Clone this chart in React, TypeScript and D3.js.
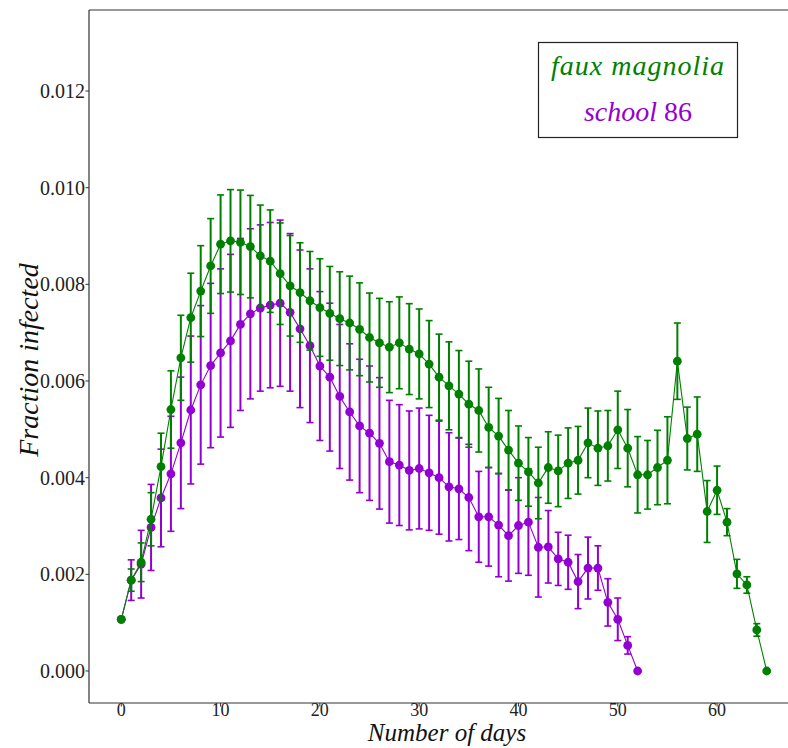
import React from "react";
import * as d3 from "d3";

const greenDays = d3.range(0, 66);
const greenValues = [
  0.00107, 0.00188, 0.00225, 0.00314, 0.00423, 0.00541, 0.00648, 0.00731, 0.00786, 0.00838,
  0.00883, 0.0089, 0.00887, 0.00878, 0.00859, 0.00848, 0.00822, 0.00797, 0.00783, 0.00766,
  0.00752, 0.0074, 0.00729, 0.0072, 0.00707, 0.0069, 0.00679, 0.0067, 0.00679, 0.00666,
  0.00656, 0.00635, 0.00608, 0.0059, 0.00573, 0.00552, 0.00539, 0.00504, 0.00486, 0.00457,
  0.0043, 0.00412, 0.00389, 0.00421, 0.00414, 0.0043, 0.00436, 0.00472, 0.00461, 0.00466,
  0.00499, 0.00461, 0.00406, 0.00406, 0.00421, 0.00436, 0.00641, 0.00481, 0.0049, 0.0033,
  0.00374, 0.00308, 0.00201, 0.00178, 0.00085, 0.0,
];
const greenErrors = [
  0, 0.00023, 0.0004, 0.00055, 0.00069, 0.0008, 0.00088, 0.00092, 0.00094, 0.00098,
  0.00102, 0.00106, 0.00108, 0.00106, 0.00105, 0.00106, 0.00105, 0.00104, 0.00103, 0.00102,
  0.00101, 0.00097, 0.00097, 0.00097, 0.00096, 0.00092, 0.00092, 0.00094, 0.00095, 0.00094,
  0.00093, 0.0009, 0.00089, 0.00091, 0.0009, 0.00089, 0.00086, 0.00083, 0.00078, 0.00082,
  0.00077, 0.00071, 0.00074, 0.00074, 0.00074, 0.00073, 0.0007, 0.00072, 0.00077, 0.00073,
  0.0008, 0.0008, 0.00079, 0.00071, 0.00077, 0.0009, 0.00079, 0.00065, 0.00077, 0.00064,
  0.0005, 0.00028, 0.0003, 0.00017, 0.00013, 0,
];

const purpleDays = d3.range(0, 53);
const purpleValues = [
  0.00107, 0.00188, 0.00221, 0.00297, 0.00358, 0.00408, 0.00472, 0.0054, 0.00592, 0.00632,
  0.00658, 0.00683, 0.00717, 0.00739, 0.00751, 0.00757, 0.00761, 0.00742, 0.00708, 0.00673,
  0.00631, 0.00608, 0.00568, 0.00536, 0.00507, 0.00492, 0.00471, 0.00433, 0.00426, 0.00415,
  0.00419, 0.0041, 0.004, 0.00381, 0.00377, 0.00359, 0.00319, 0.00319, 0.00302, 0.0028,
  0.00301, 0.00308, 0.00256, 0.00257, 0.00232, 0.00225, 0.00185, 0.00213, 0.00213, 0.00142,
  0.00107, 0.00053, 0.0,
];
const purpleErrors = [
  0, 0.00042, 0.0007, 0.00089, 0.00101, 0.00119, 0.00136, 0.00153, 0.00164, 0.0017,
  0.00174, 0.00179, 0.00178, 0.00176, 0.00172, 0.00171, 0.00172, 0.00163, 0.00163, 0.00159,
  0.00154, 0.00153, 0.00149, 0.00141, 0.00138, 0.00139, 0.00136, 0.00127, 0.00125, 0.00123,
  0.00125, 0.00119, 0.00117, 0.00112, 0.00105, 0.0011, 0.00094, 0.00102, 0.00107, 0.00094,
  0.00099, 0.0011, 0.00103, 0.00075, 0.00055, 0.00056, 0.00056, 0.00064, 0.00046, 0.00049,
  0.00044, 0.00018, 0,
];

const xTicks = [0, 10, 20, 30, 40, 50, 60];
const yTicks = [0, 0.002, 0.004, 0.006, 0.008, 0.01, 0.012];
const seriesNames = ["faux magnolia", "school"];
const seriesNumber = ["", "86"];

const GREEN = "#008000";
const PURPLE = "#9400d3";
const FONT = "'Liberation Serif', 'DejaVu Serif', serif";

const W = 788;
const H = 748;
const L = 89, R = 799, T = 10, B = 703;

export default function App() {
  const x = d3.scaleLinear().domain([-3.25, 68.25]).range([L, R]);
  const y = d3.scaleLinear().domain([-0.000662, 0.013676]).range([B, T]);

  const line = d3
    .line<[number, number]>()
    .x((d) => x(d[0]))
    .y((d) => y(d[1]));

  const series = [
    { days: purpleDays, vals: purpleValues, errs: purpleErrors, color: PURPLE },
    { days: greenDays, vals: greenValues, errs: greenErrors, color: GREEN },
  ];

  return (
    <svg
      width={W}
      height={H}
      style={{ position: "absolute", left: 0, top: 0, background: "#fff" }}
    >
      <defs>
        <clipPath id="plotclip">
          <rect x={L} y={T} width={R - L} height={B - T} />
        </clipPath>
      </defs>
      <rect x={0} y={0} width={W} height={H} fill="#fff" />
      <g clipPath="url(#plotclip)">
        {series.map((s, si) => (
          <g key={si}>
            {s.days.map((d, i) =>
              s.errs[i] > 0 ? (
                <g key={i} stroke={s.color} strokeWidth={2}>
                  <line x1={x(d)} x2={x(d)} y1={y(s.vals[i] - s.errs[i])} y2={y(s.vals[i] + s.errs[i])} />
                  <line x1={x(d) - 3.5} x2={x(d) + 3.5} y1={y(s.vals[i] - s.errs[i])} y2={y(s.vals[i] - s.errs[i])} strokeWidth={1.6} />
                  <line x1={x(d) - 3.5} x2={x(d) + 3.5} y1={y(s.vals[i] + s.errs[i])} y2={y(s.vals[i] + s.errs[i])} strokeWidth={1.6} />
                </g>
              ) : null
            )}
            <path
              d={line(s.days.map((d, i) => [d, s.vals[i]] as [number, number])) || ""}
              fill="none"
              stroke={s.color}
              strokeWidth={1.1}
            />
            {s.days.map((d, i) => (
              <circle key={i} cx={x(d)} cy={y(s.vals[i])} r={4.4} fill={s.color} />
            ))}
          </g>
        ))}
      </g>

      {/* spines */}
      <g stroke="#333" strokeWidth={1.2} fill="none">
        <line x1={L} x2={L} y1={T} y2={B} />
        <line x1={L} x2={R} y1={B} y2={B} />
        <line x1={L} x2={R} y1={T} y2={T} />
      </g>

      {/* y ticks */}
      {yTicks.map((t) => (
        <g key={t}>
          <line x1={L - 3.5} x2={L} y1={y(t)} y2={y(t)} stroke="#333" strokeWidth={1} />
          <text
            x={L - 4}
            y={y(t)}
            dy="0.35em"
            textAnchor="end"
            fontFamily={FONT}
            fontSize={20}
            fill="#222"
          >
            {t.toFixed(3)}
          </text>
        </g>
      ))}

      {/* x ticks */}
      {xTicks.map((t) => (
        <g key={t}>
          <line x1={x(t)} x2={x(t)} y1={B} y2={B + 3.5} stroke="#333" strokeWidth={1} />
          <text
            x={x(t)}
            y={B + 13}
            textAnchor="middle"
            fontFamily={FONT}
            fontSize={18}
            fill="#222"
          >
            {t}
          </text>
        </g>
      ))}

      {/* axis labels */}
      <text
        x={447}
        y={741}
        textAnchor="middle"
        fontFamily={FONT}
        fontStyle="italic"
        fontSize={25}
        fill="#111"
      >
        Number of days
      </text>
      <text
        transform={`translate(38, ${360}) rotate(-90)`}
        textAnchor="middle"
        fontFamily={FONT}
        fontStyle="italic"
        fontSize={28}
        fill="#111"
      >
        Fraction infected
      </text>

      {/* legend */}
      <rect x={538.5} y={42.5} width={199} height={95} fill="#fff" stroke="#222" strokeWidth={1.2} />
      <text
        x={638}
        y={75}
        textAnchor="middle"
        fontFamily={FONT}
        fontStyle="italic"
        fontSize={28}
        fill={GREEN}
        letterSpacing={1}
      >
        {seriesNames[0]}
      </text>
      <text x={638} y={121} textAnchor="middle" fontFamily={FONT} fontSize={28} fill={PURPLE}>
        <tspan fontStyle="italic">{seriesNames[1]}</tspan>
        <tspan> {seriesNumber[1]}</tspan>
      </text>
    </svg>
  );
}
